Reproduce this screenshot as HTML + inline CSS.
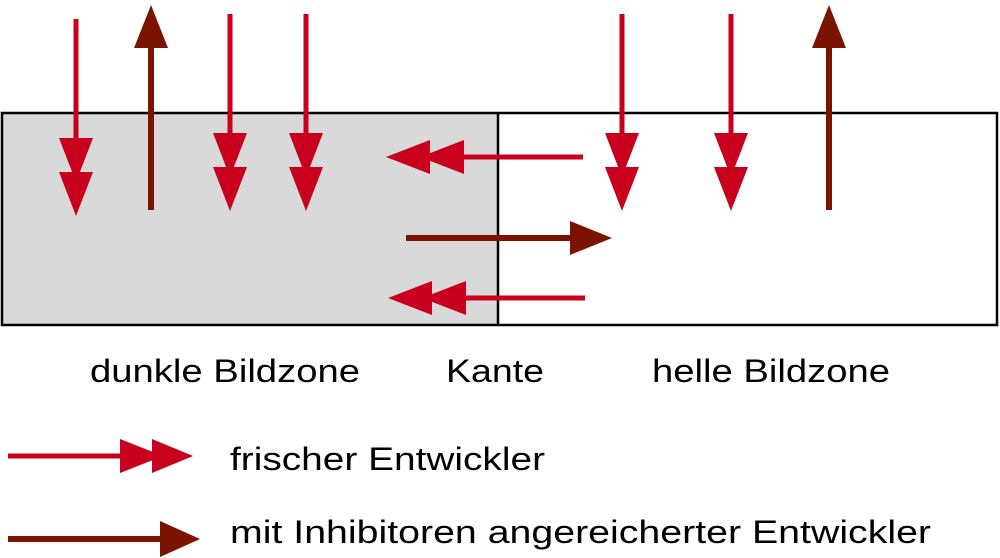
<!DOCTYPE html>
<html><head><meta charset="utf-8"><style>html,body{margin:0;padding:0;background:#fff}svg{display:block}</style></head>
<body>
<svg width="1000" height="558" viewBox="0 0 1000 558" xmlns="http://www.w3.org/2000/svg">
<rect x="2" y="113" width="496" height="212" fill="#d9d9d9"/>
<rect x="2" y="113" width="995" height="212" fill="none" stroke="#000" stroke-width="2.5"/>
<line x1="498" y1="113" x2="498" y2="325" stroke="#000" stroke-width="2.5"/>
<g fill="#c8001e" stroke="#c8001e">
<line x1="76" y1="19" x2="76" y2="170" stroke-width="5"/>
<polygon points="59,138 93,138 76,182" stroke="none"/><polygon points="59,172 93,172 76,216" stroke="none"/>
<line x1="230" y1="14" x2="230" y2="170" stroke-width="5"/>
<polygon points="213,133 247,133 230,177" stroke="none"/><polygon points="213,167 247,167 230,211" stroke="none"/>
<line x1="306" y1="14" x2="306" y2="170" stroke-width="5"/>
<polygon points="289,133 323,133 306,177" stroke="none"/><polygon points="289,167 323,167 306,211" stroke="none"/>
<line x1="622" y1="14" x2="622" y2="170" stroke-width="5"/>
<polygon points="605,133 639,133 622,177" stroke="none"/><polygon points="605,167 639,167 622,211" stroke="none"/>
<line x1="731" y1="14" x2="731" y2="170" stroke-width="5"/>
<polygon points="714,133 748,133 731,177" stroke="none"/><polygon points="714,167 748,167 731,211" stroke="none"/>
<line x1="583" y1="157" x2="440" y2="157" stroke-width="5"/>
<polygon points="430,140 430,174 386,157" stroke="none"/><polygon points="464,140 464,174 420,157" stroke="none"/>
<line x1="585" y1="298" x2="440" y2="298" stroke-width="5"/>
<polygon points="432,281 432,315 388,298" stroke="none"/><polygon points="466,281 466,315 422,298" stroke="none"/>
<line x1="8" y1="456" x2="140" y2="456" stroke-width="5"/>
<polygon points="120,439 120,473 163,456" stroke="none"/><polygon points="152,439 152,473 193,456" stroke="none"/>
</g>
<g fill="#7a1400" stroke="#7a1400">
<line x1="151" y1="45" x2="151" y2="210" stroke-width="6"/>
<polygon points="134,48 168,48 151,5" stroke="none"/>
<line x1="829" y1="45" x2="829" y2="210" stroke-width="6"/>
<polygon points="812,48 846,48 829,5" stroke="none"/>
<line x1="406" y1="238" x2="575" y2="238" stroke-width="6"/>
<polygon points="570,221 570,255 612,238" stroke="none"/>
<line x1="8" y1="539" x2="165" y2="539" stroke-width="6"/>
<polygon points="160,521 160,557 200,539" stroke="none"/>
</g>
<g font-family="Liberation Sans, sans-serif" font-size="32" fill="#000">
<text x="90" y="382" textLength="270" lengthAdjust="spacingAndGlyphs">dunkle Bildzone</text>
<text x="446" y="382" textLength="98" lengthAdjust="spacingAndGlyphs">Kante</text>
<text x="652" y="382" textLength="238" lengthAdjust="spacingAndGlyphs">helle Bildzone</text>
<text x="230" y="470" textLength="315" lengthAdjust="spacingAndGlyphs">frischer Entwickler</text>
<text x="230" y="543" textLength="701" lengthAdjust="spacingAndGlyphs">mit Inhibitoren angereicherter Entwickler</text>
</g>
</svg>
</body></html>
